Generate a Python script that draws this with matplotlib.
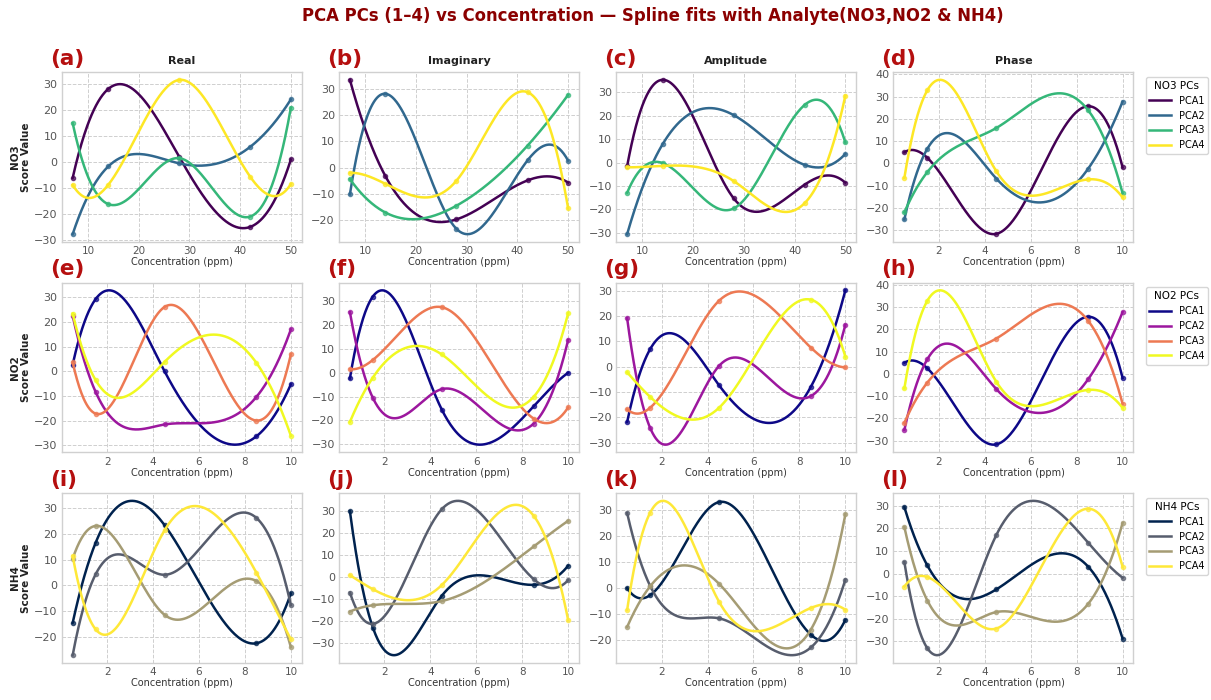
import matplotlib
matplotlib.use("Agg")
import matplotlib.pyplot as plt
from matplotlib.ticker import MultipleLocator
import numpy as np

# concentrations (ppm)
conc_no3 = [7, 14, 28, 42, 50]
conc_low = [0.5, 1.5, 4.5, 8.5, 10]

features = ["Real", "Imaginary", "Amplitude", "Phase"]
analytes = ["NO3", "NO2", "NH4"]
pc_names = ["PCA1", "PCA2", "PCA3", "PCA4"]
cmaps = ["viridis", "plasma", "cividis"]

# PC scores, rows = PCA1..PCA4
no3_real = [[-6.1, 28.2, 2.0, -25.0, 1.0],
            [-27.8, -1.7, -0.5, 5.9, 24.2],
            [15.0, -16.2, 1.5, -21.0, 21.0],
            [-8.8, -8.8, 31.7, -5.7, -8.5]]
no3_imag = [[33.4, -3.2, -19.6, -4.8, -5.6],
            [-10.1, 28.1, -23.2, 2.8, 2.7],
            [-4.3, -17.0, -14.4, 8.4, 27.7],
            [-1.9, -6.1, -4.9, 28.7, -15.4]]
no3_amp = [[-1.5, 35.4, -15.3, -9.4, -8.6],
           [-30.6, 7.9, 20.3, -1.0, 3.7],
           [-12.9, -0.2, -19.6, 24.7, 8.6],
           [-2.0, -1.4, -7.9, -17.3, 28.6]]
no3_phase = [[5.0, 2.5, -31.7, 25.7, -1.8],
             [-25.2, 6.6, -6.8, -2.4, 27.8],
             [-22.0, -3.9, 15.9, 23.9, -13.4],
             [-6.5, 32.9, -3.5, -7.2, -15.3]]

no2_real = [[2.7, 29.3, 0.0, -26.4, -5.3],
            [22.5, -8.4, -21.6, -10.4, 17.0],
            [3.6, -17.2, 26.1, -20.0, 6.9],
            [23.4, -3.6, 3.8, 3.4, -26.2]]
no2_imag = [[-2.4, 32.1, -15.5, -14.1, 0.0],
            [25.5, -10.6, -6.9, -21.4, 13.8],
            [1.5, 5.4, 27.6, -19.3, -14.6],
            [-20.7, -2.0, 7.7, -10.1, 25.0]]
no2_amp = [[-21.8, 6.9, -7.3, -7.9, 30.1],
           [19.1, -24.1, 0.3, -11.6, 16.5],
           [-16.8, -16.2, 26.0, 7.5, -0.3],
           [-2.2, -11.9, -16.2, 26.4, 4.0]]
no2_phase = [[5.0, 2.5, -31.7, 25.7, -1.8],
             [-25.2, 6.6, -6.8, -2.4, 27.8],
             [-22.0, -3.9, 15.9, 23.9, -13.4],
             [-6.5, 32.9, -3.5, -7.2, -15.3]]

nh4_real = [[-14.5, 16.5, 23.3, -22.4, -3.1],
            [-27.0, 4.3, 4.1, 26.1, -7.6],
            [10.3, 23.0, -11.4, 1.7, -23.9],
            [11.4, -17.0, 21.3, 4.9, -20.9]]
nh4_imag = [[30.1, -23.0, -8.5, -3.5, 5.2],
            [-7.0, -21.3, 31.0, -0.9, -1.4],
            [-15.7, -12.8, -10.9, 14.0, 25.7],
            [0.9, -5.5, -3.6, 28.0, -19.5]]
nh4_amp = [[0.1, -2.6, 33.2, -17.8, -12.1],
           [29.0, 1.0, -11.5, -22.7, 3.4],
           [-14.8, 0.8, 1.8, -15.8, 28.5],
           [-8.3, 29.1, -5.1, -7.5, -8.2]]
nh4_phase = [[29.4, 3.6, -7.0, 3.1, -28.7],
             [5.1, -33.0, 17.0, 13.7, -1.8],
             [20.6, -11.9, -17.0, -13.4, 22.4],
             [-5.7, -1.5, -24.3, 28.7, 3.0]]

grid_data = [[no3_real, no3_imag, no3_amp, no3_phase],
             [no2_real, no2_imag, no2_amp, no2_phase],
             [nh4_real, nh4_imag, nh4_amp, nh4_phase]]
grid_x = [[conc_no3, conc_no3, conc_no3, conc_low],
          [conc_low] * 4,
          [conc_low] * 4]


def spline(x, y, n=300):
    # cubic not-a-knot spline (one interior knot at the middle point)
    x = np.asarray(x, float)
    y = np.asarray(y, float)
    x0, x1 = x[0], x[-1]
    k = (x[2] - x0) / (x1 - x0)

    def basis(t):
        t = (t - x0) / (x1 - x0)
        return np.column_stack([np.ones_like(t), t, t**2, t**3,
                                np.clip(t - k, 0, None)**3])
    coef = np.linalg.solve(basis(x), y)
    xs = np.linspace(x0, x1, n)
    return xs, basis(xs) @ coef


plt.rcParams.update({
    "font.family": "DejaVu Sans",
    "axes.edgecolor": "#d0d0d0",
    "axes.linewidth": 1.0,
    "grid.color": "#cfcfcf",
    "grid.linestyle": "--",
    "grid.linewidth": 0.7,
    "xtick.color": "#555555",
    "ytick.color": "#555555",
    "xtick.labelsize": 7.5,
    "ytick.labelsize": 8,
})

fig, axes = plt.subplots(3, 4, figsize=(12.11, 7.0), dpi=100)
fig.subplots_adjust(left=0.051, right=0.936, top=0.897, bottom=0.053,
                    wspace=0.155, hspace=0.24)

letters = "abcdefghijkl"
for r in range(3):
    colors = plt.get_cmap(cmaps[r])(np.linspace(0, 1, 4))
    for c in range(4):
        ax = axes[r, c]
        x = grid_x[r][c]
        for p in range(4):
            y = grid_data[r][c][p]
            xs, ys = spline(x, y)
            ax.plot(xs, ys, color=colors[p], lw=1.8, label=pc_names[p])
            ax.plot(x, y, 'o', color=colors[p], ms=3, alpha=0.7)
        ax.yaxis.set_major_locator(MultipleLocator(10))
        ax.grid(True)
        ax.set_axisbelow(True)
        ax.tick_params(length=0, pad=3)
        ax.set_xlabel("Concentration (ppm)", fontsize=7, color="#333333", labelpad=1)
        if r == 0:
            ax.set_title(features[c], fontsize=8, fontweight="bold", color="#222222", pad=6)
        if c == 0:
            ax.set_ylabel(analytes[r] + "\nScore Value", fontsize=7.5,
                          fontweight="bold", color="#222222", labelpad=2)
        ax.text(-0.05, 1.02, "(" + letters[r * 4 + c] + ")", transform=ax.transAxes,
                fontsize=15.5, fontweight="bold", color="#b50f0f",
                ha="left", va="bottom")
        if c == 3:
            leg = ax.legend(title=analytes[r] + " PCs", loc="upper left",
                            bbox_to_anchor=(1.03, 1.0), fontsize=7,
                            title_fontsize=7.5, frameon=True, handlelength=2.2)
            leg.get_frame().set_edgecolor("#cccccc")

fig.suptitle("PCA PCs (1–4) vs Concentration — Spline fits with Analyte(NO3,NO2 & NH4)",
             x=0.539, y=0.99, fontsize=11.9, fontweight="bold", color="#8b0000")

fig.savefig("out.png", dpi=100)
